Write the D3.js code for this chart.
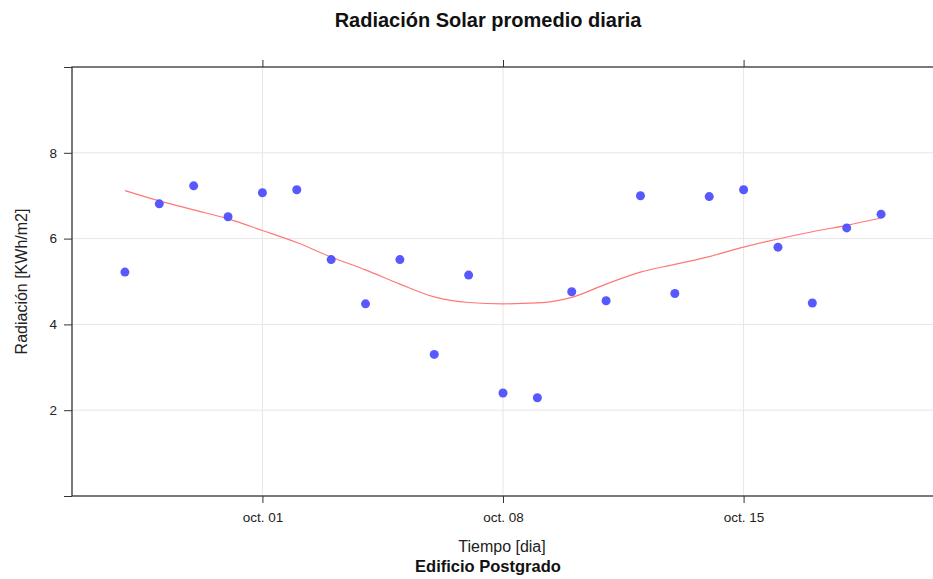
<!DOCTYPE html>
<html><head><meta charset="utf-8">
<script src="https://cdn.jsdelivr.net/npm/d3@7"></script>
<style>
html,body{margin:0;padding:0;background:#fff;}
svg{display:block;font-family:"Liberation Sans",Arial,sans-serif;}
</style></head>
<body>
<svg id="chart" width="933" height="579"></svg>
<script>
const dates = ["2019-09-27","2019-09-28","2019-09-29","2019-09-30","2019-10-01","2019-10-02","2019-10-03","2019-10-04","2019-10-05","2019-10-06","2019-10-07","2019-10-08","2019-10-09","2019-10-10","2019-10-11","2019-10-12","2019-10-13","2019-10-14","2019-10-15","2019-10-16","2019-10-17","2019-10-18","2019-10-19"];
const radiacion = [5.22,6.81,7.23,6.51,7.07,7.14,5.51,4.48,5.51,3.30,5.15,2.40,2.29,4.76,4.55,7.00,4.72,6.98,7.14,5.80,4.50,6.25,6.57];
const suavizado = [7.12,6.88,6.67,6.46,6.19,5.91,5.57,5.27,4.94,4.64,4.51,4.48,4.50,4.63,4.94,5.22,5.40,5.58,5.80,5.99,6.16,6.31,6.48];
const xTickDates = ["2019-10-01","2019-10-08","2019-10-15"];
const xTickLabels = ["oct. 01","oct. 08","oct. 15"];
const yTicks = [0,2,4,6,8,10];
const yTickLabels = ["","2","4","6","8",""];
const yGrid = [2,4,6,8];

const parse = d3.utcParse("%Y-%m-%d");
const dayMs = 86400000;
const xd = dates.map(parse);
const pad = 1.54 * dayMs;

const svg = d3.select("#chart");
const L = 72, R = 936, T = 67, B = 496;

const x = d3.scaleUtc()
  .domain([new Date(+xd[0] - pad), new Date(+xd[xd.length-1] + pad)])
  .range([L, R - 2]);
const y = d3.scaleLinear().domain([0,10]).range([B, T]);

// grid
const g = svg.append("g");
g.selectAll("line.yg").data(yGrid).enter().append("line")
  .attr("x1", L).attr("x2", R).attr("y1", d=>y(d)).attr("y2", d=>y(d))
  .attr("stroke", "#e6e6e6").attr("stroke-width", 1);
g.selectAll("line.xg").data(xTickDates.map(parse)).enter().append("line")
  .attr("x1", d=>x(d)).attr("x2", d=>x(d)).attr("y1", T).attr("y2", B)
  .attr("stroke", "#e6e6e6").attr("stroke-width", 1);

// axes
const axL = d3.axisLeft(y).tickValues(yTicks).tickFormat((d,i)=>yTickLabels[i]).tickSize(8).tickPadding(7);
const axB = d3.axisBottom(x).tickValues(xTickDates.map(parse)).tickFormat((d,i)=>xTickLabels[i]).tickSize(7).tickPadding(9);
const axT = d3.axisTop(x).tickValues(xTickDates.map(parse)).tickFormat("").tickSize(7);

function styleAxis(sel){
  sel.select(".domain").remove();
  sel.selectAll(".tick line").attr("stroke","#333");
  sel.selectAll(".tick text").attr("fill","#222").style("font-size","13.5px").style("font-family","Liberation Sans, Arial, sans-serif");
}
svg.append("g").attr("transform",`translate(${L},0)`).call(axL).call(styleAxis);
svg.append("g").attr("transform",`translate(0,${B})`).call(axB).call(styleAxis);
svg.append("g").attr("transform",`translate(0,${T})`).call(axT).call(styleAxis);

// frame
svg.append("rect").attr("x", L).attr("y", T).attr("width", R-L).attr("height", B-T)
  .attr("fill","none").attr("stroke","#333").attr("stroke-width",1.3);

// smooth line
const line = d3.line().x((d,i)=>x(xd[i])).y(d=>y(d)).curve(d3.curveMonotoneX);
svg.append("path").datum(suavizado).attr("d", line)
  .attr("fill","none").attr("stroke","#ff7878").attr("stroke-width",1.2);

// points
svg.selectAll("circle.pt").data(radiacion).enter().append("circle")
  .attr("cx",(d,i)=>x(xd[i])).attr("cy",d=>y(d)).attr("r",4.5)
  .attr("fill","#4f4fff").attr("fill-opacity",0.95);

// titles
svg.append("text").attr("x",488).attr("y",27).attr("text-anchor","middle")
  .style("font-size","20px").style("font-weight","bold").attr("fill","#111")
  .text("Radiación Solar promedio diaria");
svg.append("text").attr("x",502).attr("y",552).attr("text-anchor","middle")
  .style("font-size","16px").attr("fill","#222").text("Tiempo [dia]");
svg.append("text").attr("x",488).attr("y",572).attr("text-anchor","middle")
  .style("font-size","16.5px").style("font-weight","bold").attr("fill","#111").text("Edificio Postgrado");
svg.append("text").attr("transform",`translate(27,${(T+B)/2}) rotate(-90)`).attr("text-anchor","middle")
  .style("font-size","16px").attr("fill","#222").text("Radiación [KWh/m2]");
</script>
</body></html>
